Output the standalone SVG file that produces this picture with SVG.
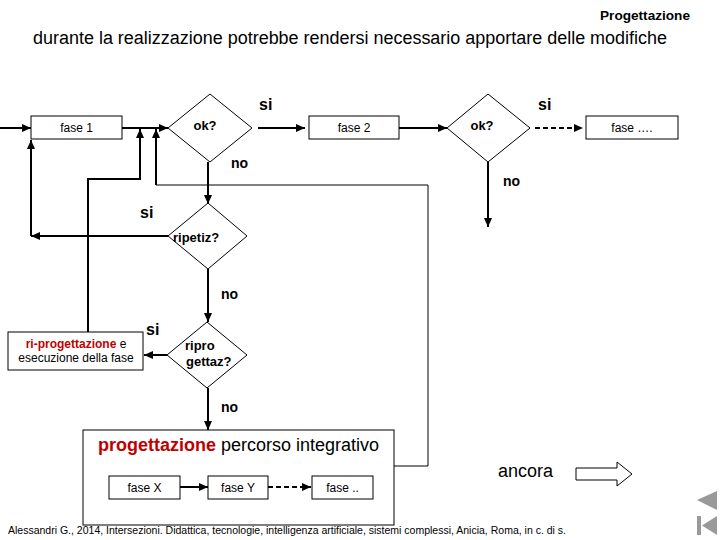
<svg xmlns="http://www.w3.org/2000/svg" width="720" height="540" viewBox="0 0 720 540">
<defs>
<marker id="ah" markerUnits="userSpaceOnUse" markerWidth="10" markerHeight="8" refX="9" refY="4" orient="auto"><path d="M0,0 L9,4 L0,8 Z" fill="#000"/></marker>
<style>
text{font-family:"Liberation Sans",Arial,sans-serif;fill:#000}
.box{fill:#fff;stroke:#000;stroke-width:1}
.dia{fill:#fff;stroke:#000;stroke-width:1}
.bt{font-size:12px;text-anchor:middle}
.dt{font-size:13px;font-weight:bold}
.si{font-size:16px;font-weight:bold}
.no{font-size:14px;font-weight:bold}
.c{fill:none;stroke:#000;stroke-width:2}
.thin{fill:none;stroke:#000;stroke-width:1}
.dash{stroke-dasharray:5,3}
.red{fill:#c00000;font-weight:bold}
.nav{fill:#999}
</style>
</defs>
<rect width="720" height="540" fill="#fff"/>
<text x="690" y="20" font-size="13.5" font-weight="bold" text-anchor="end" textLength="90" lengthAdjust="spacingAndGlyphs">Progettazione</text>
<text x="33" y="44" font-size="18" textLength="634" lengthAdjust="spacingAndGlyphs">durante la realizzazione potrebbe rendersi necessario apportare delle modifiche</text>

<g id="fase1"><rect class="box" x="31" y="116" width="91" height="23"/><text class="bt" x="76.5" y="132">fase 1</text></g>
<g id="ok1"><polygon class="dia" points="168,128 210,94 252,128 210,162"/><text class="dt" x="205" y="130" text-anchor="middle">ok?</text></g>
<g id="fase2"><rect class="box" x="309" y="116" width="90" height="23"/><text class="bt" x="354" y="132">fase 2</text></g>
<g id="ok2"><polygon class="dia" points="447,128 488,94 530,128 488,162"/><text class="dt" x="482" y="130" text-anchor="middle">ok?</text></g>
<g id="faseN"><rect class="box" x="586" y="116" width="92" height="23"/><text class="bt" x="632" y="132">fase ….</text></g>
<g id="ripetiz"><polygon class="dia" points="168,236 208,203 247,236 208,269"/><text class="dt" x="173" y="242">ripetiz?</text></g>
<g id="ripro"><polygon class="dia" points="167,355 207,322 247,355 207,388"/><text class="dt" x="185" y="350">ripro</text><text class="dt" x="186" y="366">gettaz?</text></g>
<g id="riprog"><rect class="box" x="8" y="332" width="135" height="38"/><text class="bt" x="76" y="348"><tspan class="red">ri-progettazione</tspan> e</text><text class="bt" x="76" y="362">esecuzione della fase</text></g>
<g id="percorso"><rect class="box" x="83" y="430" width="311" height="95"/>
<text x="98" y="451" font-size="18"><tspan class="red">progettazione</tspan> percorso integrativo</text>
</g>
<g id="faseX"><rect class="box" x="109" y="476" width="71" height="23"/><text class="bt" x="144.5" y="492">fase X</text></g>
<g id="faseY"><rect class="box" x="208" y="476" width="60" height="23"/><text class="bt" x="238" y="492">fase Y</text></g>
<g id="faseDots"><rect class="box" x="312" y="476" width="61" height="23"/><text class="bt" x="342.5" y="492">fase ..</text></g>

<g id="connectors">
<line class="c" x1="0" y1="128" x2="31" y2="128" marker-end="url(#ah)"/>
<line class="c" x1="122" y1="128" x2="168" y2="128" marker-end="url(#ah)"/>
<line class="c" x1="258" y1="128" x2="305" y2="128" marker-end="url(#ah)"/>
<line class="c" x1="399" y1="128" x2="447" y2="128" marker-end="url(#ah)"/>
<line class="c dash" x1="535" y1="128" x2="583" y2="128" marker-end="url(#ah)"/>
<line class="c" x1="208" y1="162" x2="208" y2="204" marker-end="url(#ah)"/>
<line class="c" x1="488" y1="162" x2="488" y2="227" marker-end="url(#ah)"/>
<line class="c" x1="168" y1="236" x2="31" y2="236" marker-end="url(#ah)"/>
<line class="c" x1="31" y1="236" x2="31" y2="140" marker-end="url(#ah)"/>
<line class="c" x1="208" y1="269" x2="208" y2="322" marker-end="url(#ah)"/>
<line class="c" x1="167" y1="355" x2="144" y2="355" marker-end="url(#ah)"/>
<polyline class="c" points="88,332 88,179 140,179 140,129" marker-end="url(#ah)"/>
<line class="c" x1="208" y1="388" x2="208" y2="430" marker-end="url(#ah)"/>
<polyline class="thin" points="394,466 428,466 428,185 156,185"/>
<line class="c" x1="156" y1="185" x2="156" y2="129" marker-end="url(#ah)"/>
<line class="c" x1="180" y1="487" x2="208" y2="487" marker-end="url(#ah)"/>
<line class="c dash" x1="268" y1="487" x2="311" y2="487" marker-end="url(#ah)"/>
</g>

<g id="labels">
<text class="si" x="259" y="110">si</text>
<text class="si" x="538" y="110">si</text>
<text class="si" x="140" y="218">si</text>
<text class="si" x="146" y="335">si</text>
<text class="no" x="231" y="168">no</text>
<text class="no" x="503" y="186">no</text>
<text class="no" x="221" y="299">no</text>
<text class="no" x="221" y="412">no</text>
</g>

<g id="ancora"><text x="498" y="477" font-size="18">ancora</text>
<polygon fill="#fff" stroke="#000" stroke-width="1" points="576,468 617,468 617,462 632,474 617,486 617,480 576,480"/></g>

<text x="8" y="534" font-size="10" textLength="558" lengthAdjust="spacingAndGlyphs">Alessandri G., 2014, Intersezioni. Didattica, tecnologie, intelligenza artificiale, sistemi complessi, Anicia, Roma, in c. di s.</text>

<g id="nav">
<polygon class="nav" points="697,500 717,491 717,510"/>
<rect class="nav" x="697" y="516" width="4" height="19"/>
<polygon class="nav" points="702,525.5 717,516 717,535"/>
</g>
</svg>
